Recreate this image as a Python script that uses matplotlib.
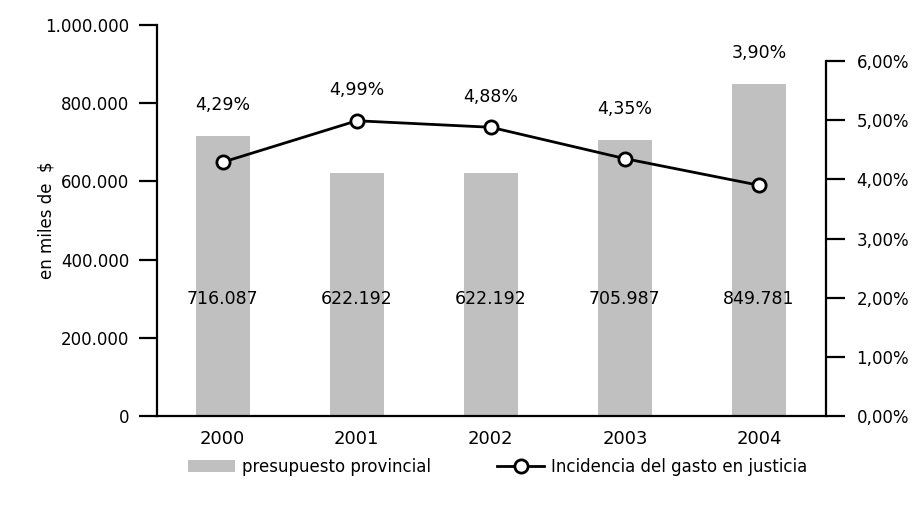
import matplotlib

matplotlib.use("Agg")
import matplotlib.pyplot as plt
from matplotlib.lines import Line2D
from matplotlib.patches import Patch

years = ["2000", "2001", "2002", "2003", "2004"]
presupuesto = [716087, 622192, 622192, 705987, 849781]
incidencia = [4.29, 4.99, 4.88, 4.35, 3.90]
left_ticks = [0, 200000, 400000, 600000, 800000, 1000000]
right_ticks = [0, 1, 2, 3, 4, 5, 6]


def miles(v):
    return f"{v:,.0f}".replace(",", ".")


def pct(v):
    return f"{v:.2f}%".replace(".", ",")


plt.rcParams["font.family"] = ["DejaVu Sans"]
plt.rcParams["font.size"] = 12

fig = plt.figure(figsize=(9.13, 5.05), dpi=100)
ax = fig.add_axes([0.172, 0.1762, 0.7327, 0.7743])
ax2 = ax.twinx()

x = list(range(len(years)))
bar_color = "#c0c0c0"
ax.bar(x, presupuesto, width=0.40, color=bar_color, zorder=2)
ax.set_xlim(-0.49, 4.5)
ax.set_ylim(0, 1000000)
ax.set_yticks(left_ticks)
ax.set_yticklabels([miles(v) for v in left_ticks])
ax.set_xticks(x)
ax.set_xticklabels(years)
ax.tick_params(axis="x", length=0, pad=10, labelsize=13)
ax.tick_params(axis="y", length=13, width=1.6, pad=7, labelsize=12)
ax.set_ylabel("en miles de  $", fontsize=12)
ax.yaxis.set_label_coords(-0.152, 0.5)
for s in ["top", "right"]:
    ax.spines[s].set_visible(False)
ax.spines["left"].set_linewidth(1.6)
ax.spines["bottom"].set_linewidth(1.6)

for xi, v in zip(x, presupuesto):
    ax.text(xi, 300000, miles(v), ha="center", va="center", fontsize=12.5, zorder=5)

# right axis: share of spending on justice
top_pct = 6 * 391 / 355
ax2.set_ylim(0, top_pct)
ax2.plot(x, incidencia, color="black", linewidth=2.0, marker="o", markersize=9.5,
         markerfacecolor="white", markeredgecolor="black", markeredgewidth=2.0, zorder=4)
ax2.set_yticks(right_ticks)
ax2.set_yticklabels([pct(v) for v in right_ticks])
ax2.tick_params(axis="y", length=14, width=1.6, pad=8, labelsize=12)
for s in ["top", "left", "bottom"]:
    ax2.spines[s].set_visible(False)
ax2.spines["right"].set_bounds(0, 6)
ax2.spines["right"].set_linewidth(1.6)

scale = top_pct / 1000000
for xi, v, b in zip(x, incidencia, presupuesto):
    base = max(v, b * scale)
    ax2.annotate(pct(v), (xi, base), xytext=(0, 22), textcoords="offset points",
                 ha="center", va="center", fontsize=12.5)

handles = [
    Patch(facecolor=bar_color, edgecolor="none", label="presupuesto provincial"),
    Line2D([0], [0], color="black", linewidth=2.0, marker="o", markersize=9.5,
           markerfacecolor="white", markeredgecolor="black", markeredgewidth=2.0,
           label="Incidencia del gasto en justicia"),
]
fig.legend(handles=handles, loc="center", bbox_to_anchor=(0.545, 0.075), ncol=2,
           frameon=False, fontsize=12, handlelength=2.8, handletextpad=0.4,
           columnspacing=4.0)

fig.savefig("out.png", dpi=100)
